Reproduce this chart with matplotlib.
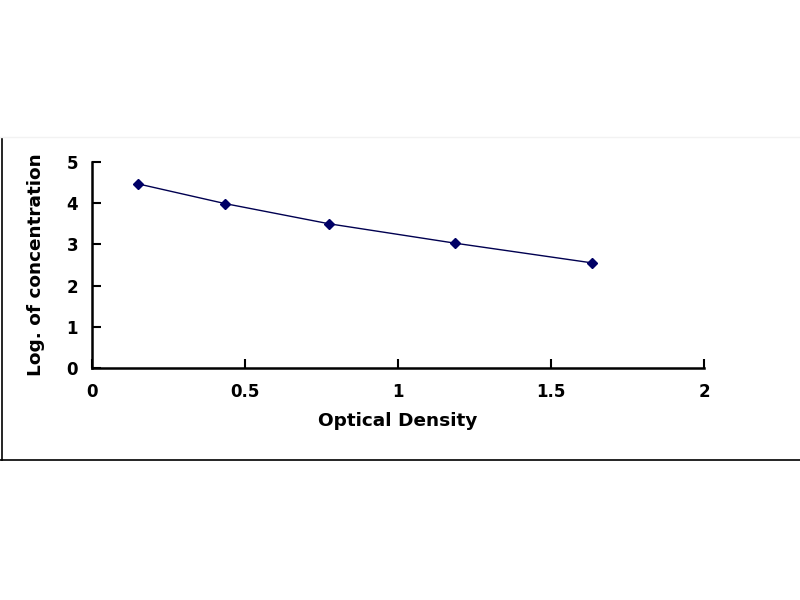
import matplotlib
matplotlib.use("Agg")
import matplotlib.pyplot as plt
from matplotlib.lines import Line2D

optical_density = [0.150, 0.435, 0.775, 1.186, 1.635]
log_conc = [4.47, 3.99, 3.50, 3.03, 2.55]

x_ticks = [0, 0.5, 1, 1.5, 2]
x_labels = ["0", "0.5", "1", "1.5", "2"]
y_ticks = [0, 1, 2, 3, 4, 5]

plt.rcParams["font.family"] = ["DejaVu Sans"]
plt.rcParams["font.weight"] = "bold"

fig = plt.figure(figsize=(8, 6), dpi=100)
ax = fig.add_axes([0.115, 0.3867, 0.765, 0.3433])

ax.plot(optical_density, log_conc, color="#000050", linewidth=1.0,
        marker="D", markersize=5.5, markerfacecolor="#000066",
        markeredgecolor="#000066")

ax.set_xlim(0, 2)
ax.set_ylim(0, 5)
ax.set_xticks(x_ticks)
ax.set_xticklabels(x_labels)
ax.set_yticks(y_ticks)
ax.tick_params(direction="in", length=6.5, width=1.5, labelsize=12)
ax.tick_params(axis="x", pad=11)
ax.tick_params(axis="y", pad=10)

for side in ["top", "right"]:
    ax.spines[side].set_visible(False)
for side in ["left", "bottom"]:
    ax.spines[side].set_linewidth(1.8)

ax.set_xlabel("Optical Density", fontsize=13.3, fontweight="bold", labelpad=7.5)
ax.set_ylabel("Log. of concentration", fontsize=13.3, fontweight="bold", labelpad=15.5)

# cadre autour du graphique
fig.add_artist(Line2D([0.003, 0.003], [1 - 138 / 600, 1 - 460 / 600],
                      transform=fig.transFigure, color="black", linewidth=1.2))
fig.add_artist(Line2D([0, 1], [1 - 460 / 600, 1 - 460 / 600],
                      transform=fig.transFigure, color="black", linewidth=1.2))
fig.add_artist(Line2D([0, 1], [1 - 137 / 600, 1 - 137 / 600],
                      transform=fig.transFigure, color="#f2f2f2", linewidth=1.0))

fig.savefig("out.png", dpi=100)
plt.close(fig)
